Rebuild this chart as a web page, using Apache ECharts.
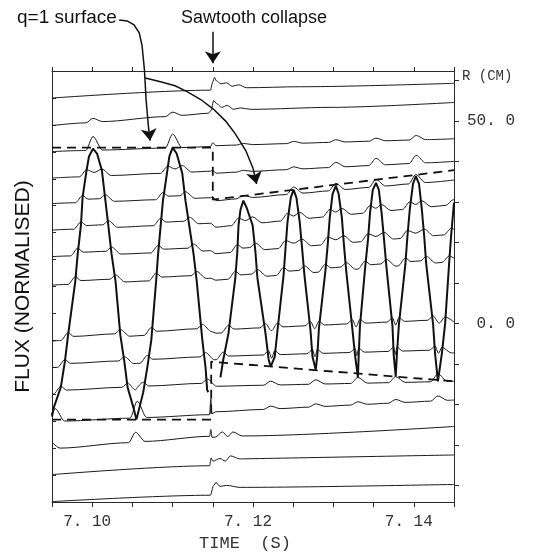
<!DOCTYPE html>
<html><head><meta charset="utf-8">
<script src="https://cdn.jsdelivr.net/npm/echarts@6/dist/echarts.min.js"></script>
<style>html,body{margin:0;padding:0;background:#fff}#c{width:545px;height:557px}</style>
</head><body><div id="c"></div>
<script>
// Time in ms (axis shown in s); flux in normalised units (trace spacing 2.744); R in cm
const timeLabelValues = [7100, 7120, 7140];
const rTickValues = [-40, -30, -20, -10, 0, 10, 20, 30, 40, 50, 60];
const rLabelValues = [0, 50];

// trace baselines [time, flux] and bumps [tLeftLeg, tRightLeg, height]
const base15 = [[7095,41.15],[7114.7,41.95],[7115.0,42.8],[7115.2,43.25],[7115.45,42.9],[7116.0,42.6],[7116.7,42.7],[7117.4,42.35],[7118.2,42.5],[7119.2,42.2],[7125.9,42.3],[7145,42.65]];
const bumps15 = [];
const base14 = [[7095,38.35],[7114.45,39.6],[7114.8,39.9],[7115.1,40.9],[7115.45,40.6],[7116.1,40.2],[7116.8,40.4],[7117.6,40.0],[7118.4,40.15],[7119.7,40.0],[7129.7,40.2],[7145,40.7]];
const bumps14 = [[7100.1,7100.1,0.4],[7110.0,7110.0,0.4]];
const base13 = [[7095,35.7],[7114.7,36.2],[7115.0,36.6],[7115.4,36.3],[7145,37.0]];
const bumps13 = [[7100.1,7100.1,1.4],[7110.0,7110.0,1.4],[7118.8,7118.8,0.15],[7125.05,7125.05,0.2],[7130.3,7130.3,0.25],[7135.3,7135.3,0.3],[7140.3,7140.3,0.45]];
const base12 = [[7095,33.0],[7114.7,33.7],[7115.0,33.8],[7115.4,33.5],[7145,34.7]];
const bumps12 = [[7099.3,7101.2,0.7],[7109.4,7111.2,0.7],[7118.8,7118.8,0.15],[7125.05,7125.05,0.25],[7130.3,7130.3,0.5],[7135.3,7135.3,0.7],[7140.3,7140.3,0.8]];
const base11 = [[7095,30.4],[7114.7,31.0],[7115.0,31.1],[7115.4,30.7],[7145,32.8]];
const bumps11 = [[7098.8,7101.6,0.7],[7108.8,7111.6,0.7],[7118.8,7118.8,0.3],[7125.05,7125.05,0.7],[7130.3,7130.3,0.7],[7135.3,7135.3,0.75],[7140.25,7140.25,0.9]];
const base10 = [[7095,27.7],[7114.7,28.4],[7115.4,28.0],[7145,30.3]];
const bumps10 = [[7098.6,7102.0,0.7],[7108.5,7112.1,0.7],[7118.2,7119.95,0.7],[7124.3,7125.8,0.7],[7129.55,7131.05,0.7],[7134.55,7136.0,0.7],[7139.5,7141.0,0.7],[7144.9,7144.9,0.5]];
const base9 = [[7095,25.0],[7114.7,25.6],[7115.4,25.3],[7145,27.3]];
const bumps9 = [[7098.2,7102.4,0.75],[7108.2,7112.6,0.75],[7118.05,7120.3,0.75],[7124.05,7126.1,0.75],[7129.3,7131.3,0.75],[7134.3,7136.3,0.75],[7139.2,7141.3,0.75],[7144.65,7144.65,0.6]];
const base8 = [[7095,22.1],[7114.7,22.8],[7115.4,22.6],[7145,24.5]];
const bumps8 = [[7097.9,7102.9,0.75],[7107.95,7113.0,0.75],[7117.8,7120.55,0.75],[7123.8,7126.4,0.75],[7129.0,7131.6,0.75],[7133.95,7136.6,0.75],[7138.95,7141.55,0.75],[7144.4,7144.4,0.6]];
const base6 = [[7095,16.4],[7114.7,17.4],[7115.4,17.2],[7145,18.3]];
const bumps6 = [[7097.0,7103.5,0.75],[7107.35,7113.7,0.75],[7116.95,7121.55,0.75],[7123.05,7127.15,0.75],[7128.2,7132.35,0.75],[7133.3,7137.35,0.75],[7138.15,7142.4,0.75],[7143.9,7143.9,0.6]];
const base5 = [[7095,13.7],[7114.7,14.5],[7115.4,14.5],[7145,15.2]];
const bumps5 = [[7096.6,7104.0,0.75],[7106.85,7114.1,0.75],[7116.3,7121.95,0.75],[7122.7,7127.4,0.75],[7128.0,7132.7,0.75],[7133.15,7137.5,0.75],[7137.9,7142.65,0.75],[7143.5,7143.5,0.6]];
const base4 = [[7095,11.0],[7114.7,11.8],[7115.0,11.4],[7115.4,11.8],[7145,12.3]];
const bumps4 = [[7096.1,7104.4,0.75],[7106.35,7114.3,0.75],[7122.2,7122.2,0.4],[7127.8,7127.8,0.45],[7133.05,7133.05,0.6],[7137.75,7137.75,0.6],[7143.0,7143.0,0.8]];
const base3 = [[7095,8.2],[7114.6,8.9],[7114.75,10.5],[7114.9,9.0],[7115.4,9.2],[7145,10.4]];
const bumps3 = [[7095.4,7095.4,1.3],[7105.6,7105.6,1.7],[7122.2,7122.2,0.3],[7127.8,7127.8,0.3],[7133.05,7133.05,0.3],[7137.75,7137.75,0.35],[7143.0,7143.0,0.5]];
const base2 = [[7095,6.1],[7096.0,5.5],[7114.6,6.7],[7114.75,7.4],[7114.9,6.6],[7145,7.7]];
const bumps2 = [[7105.4,7105.4,1.0],[7116.2,7116.2,0.5],[7117.5,7117.5,0.45]];
const base1 = [[7095,2.8],[7114.6,3.7],[7114.8,4.5],[7115.1,4.0],[7118.4,4.4],[7145,4.8]];
const bumps1 = [[7115.9,7115.9,0.35],[7117.2,7117.2,0.45]];
const base0 = [[7095,0.05],[7114.7,0.7],[7115.1,1.7],[7115.4,2.0],[7115.9,1.6],[7116.7,1.7],[7118.4,1.5],[7145,1.8]];
const bumps0 = [];

// m=1 hot-spot trajectories (thick lines)
const archPre = [[7095,8.7],[7095.25,9.7],[7096.1,11.7],[7096.6,14.3],[7097.0,17.0],[7097.9,22.5],[7098.2,25.3],[7098.6,28.2],[7098.8,31.0],[7099.3,33.8],[7099.6,35.2],[7100.1,36.0],[7100.6,35.5],[7101.2,33.8],[7101.6,31.0],[7102.0,28.2],[7102.4,25.3],[7102.9,22.5],[7103.5,17.0],[7104.0,14.3],[7104.4,11.7],[7105.1,9.7],[7105.5,8.4],
 [7106.35,11.2],[7106.85,13.7],[7107.35,16.5],[7107.95,22.5],[7108.2,25.3],[7108.5,28.0],[7108.8,30.7],[7109.3,33.5],[7109.6,35.2],[7110.0,36.1],[7110.5,35.5],[7111.2,33.5],[7111.6,30.7],[7112.1,28.0],[7112.6,25.3],[7113.0,22.5],[7113.7,16.5],[7114.1,13.7],[7114.3,11.4],[7114.45,11.2]];
const archPost = [[7115.95,12.7],[7116.3,14.5],[7116.95,17.2],[7117.8,22.8],[7118.05,25.5],[7118.2,28.2],[7118.45,29.8],[7118.8,30.7],[7119.2,30.0],[7119.95,28.2],[7120.3,25.5],[7120.55,22.8],[7121.55,17.2],[7121.95,14.5],[7122.2,13.8],
 [7122.7,14.8],[7123.05,17.5],[7123.8,23.1],[7124.05,25.9],[7124.3,28.6],[7124.7,31.0],[7125.05,31.8],[7125.4,31.0],[7125.8,28.6],[7126.1,25.9],[7126.4,23.1],[7127.15,17.5],[7127.4,14.8],[7127.8,13.5],
 [7128.0,14.9],[7128.2,17.7],[7129.0,23.5],[7129.3,26.3],[7129.55,29.0],[7129.9,31.4],[7130.3,32.2],[7130.65,31.4],[7131.05,29.0],[7131.3,26.3],[7131.6,23.5],[7132.35,17.7],[7132.7,14.9],[7133.05,12.7],
 [7133.15,15.0],[7133.3,17.9],[7133.95,23.9],[7134.3,26.7],[7134.55,29.4],[7134.9,31.8],[7135.3,32.5],[7135.65,31.8],[7136.0,29.4],[7136.3,26.7],[7136.6,23.9],[7137.35,17.9],[7137.5,15.0],[7137.75,12.8],
 [7137.9,15.1],[7138.15,18.1],[7138.95,24.2],[7139.2,27.0],[7139.5,29.8],[7139.9,32.4],[7140.25,33.2],[7140.65,32.4],[7141.0,29.8],[7141.3,27.0],[7141.55,24.2],[7142.4,18.1],[7142.65,15.1],[7143.0,12.3],
 [7143.5,15.2],[7143.9,18.2],[7144.4,24.4],[7144.65,27.2],[7145.0,30.5]];

// q=1 surface (dashed)
const q1Upper = [[7095,36.1],[7115.0,36.1],[7115.0,30.8],[7145,33.8]];
const q1Lower = [[7095,8.4],[7114.8,8.4],[7114.8,14.3],[7145,12.3]];

// annotation arrows
const q1ArrowPath = [[7103.35,49.1],[7104.35,49.0],[7105.2,48.6],[7105.85,47.8],[7106.2,46.5],[7106.5,44.0],[7106.7,41.0],[7107.0,38.2]];
const q1ArrowHead = [[7107.0,38.2],[7107.2,36.8]];
const postArrowPath = [[7106.6,43.2],[7108.5,42.8],[7110.3,42.4],[7111.8,41.8],[7113.5,41.0],[7115.1,40.0],[7116.6,38.8],[7117.8,37.5],[7119.1,35.8],[7120.0,34.0]];
const postArrowHead = [[7120.0,34.0],[7120.45,32.4]];
const collapseArrow = [[7115.0,47.9],[7115.0,44.7]];

function baseAt(base, t) {
  if (t <= base[0][0]) return base[0][1];
  for (let i = 0; i < base.length - 1; i++) {
    const a = base[i], b = base[i + 1];
    if (t <= b[0]) return a[1] + (b[1] - a[1]) * (t - a[0]) / (b[0] - a[0]);
  }
  return base[base.length - 1][1];
}
function buildTrace(base, bumps) {
  const W = 0.9;
  const feats = bumps.slice().sort((a, b) => a[0] - b[0]);
  const pts = [], wins = [];
  feats.forEach((f, i) => {
    const tL = f[0], tR = f[1], h = f[2];
    let lf = tL - W, rf = tR + W * 1.3;
    if (i > 0) lf = Math.max(lf, (feats[i - 1][1] + tL) / 2);
    if (i < feats.length - 1) rf = Math.min(rf, (tR + feats[i + 1][0]) / 2);
    wins.push([lf, rf]);
    pts.push([lf, baseAt(base, lf)]);
    pts.push([tL, baseAt(base, tL) + h]);
    if (tR - tL > 0.05) {
      if (tR - tL > 2.2) {
        pts.push([tL + 0.7, baseAt(base, tL + 0.7) + 0.45 * h]);
        pts.push([tR - 0.7, baseAt(base, tR - 0.7) + 0.45 * h]);
      } else {
        pts.push([(tL + tR) / 2, baseAt(base, (tL + tR) / 2) + 0.55 * h]);
      }
      pts.push([tR, baseAt(base, tR) + h]);
    }
    pts.push([rf, baseAt(base, rf)]);
  });
  base.forEach(p => { if (!wins.some(w => p[0] > w[0] && p[0] < w[1])) pts.push(p.slice()); });
  pts.sort((a, b) => a[0] - b[0]);
  return pts;
}

const traces = [[base15,bumps15],[base14,bumps14],[base13,bumps13],[base12,bumps12],[base11,bumps11],[base10,bumps10],[base9,bumps9],[base8,bumps8],[base6,bumps6],[base5,bumps5],[base4,bumps4],[base3,bumps3],[base2,bumps2],[base1,bumps1],[base0,bumps0]];

const ink = '#111';
const series = traces.map(tr => ({
  type: 'line', data: buildTrace(tr[0], tr[1]), showSymbol: false, symbol: 'none',
  smooth: 0.3, smoothMonotone: 'x', lineStyle: { color: '#1a1a1a', width: 1 }, silent: true, z: 2
}));
series.push({ type: 'line', data: archPre, showSymbol: false, symbol: 'none', lineStyle: { color: ink, width: 2 }, z: 3, silent: true });
series.push({ type: 'line', data: archPost, showSymbol: false, symbol: 'none', lineStyle: { color: ink, width: 2 }, z: 3, silent: true });
series.push({ type: 'line', data: q1Upper, showSymbol: false, symbol: 'none', lineStyle: { color: ink, width: 1.8, type: [9, 6] }, z: 3, silent: true });
series.push({ type: 'line', data: q1Lower, showSymbol: false, symbol: 'none', lineStyle: { color: ink, width: 1.8, type: [9, 6] }, z: 3, silent: true });
series.push({ type: 'lines', coordinateSystem: 'cartesian2d', polyline: true, clip: false, silent: true,
  data: [{ coords: q1ArrowPath }, { coords: postArrowPath }], symbol: 'none',
  lineStyle: { color: ink, width: 1.5, opacity: 1 }, z: 4 });
series.push({ type: 'lines', coordinateSystem: 'cartesian2d', clip: false, silent: true,
  data: [{ coords: q1ArrowHead }, { coords: postArrowHead }, { coords: collapseArrow }],
  symbol: ['none', 'arrow'], symbolSize: 12,
  lineStyle: { color: ink, width: 1.5, opacity: 1 }, itemStyle: { color: ink, opacity: 1 }, z: 4 });

const axisInk = '#2a2a2a';
const option = {
  animation: false,
  backgroundColor: '#fff',
  grid: { left: 52, top: 71, width: 402, height: 439, containLabel: false },
  xAxis: [
    { type: 'value', position: 'bottom', min: 7095, max: 7145, interval: 5,
      axisLine: { show: true, onZero: false, lineStyle: { color: axisInk, width: 1 } },
      axisTick: { show: true, length: 5, lineStyle: { color: axisInk } },
      splitLine: { show: false },
      axisLabel: { interval: 0, margin: 12, fontFamily: 'Liberation Mono', fontSize: 16, color: '#333', padding: [0, 10, 0, 0],
        formatter: v => timeLabelValues.includes(Math.round(v)) ? (Math.round(v) / 1000).toFixed(2).replace('.', '. ') : '' },
      name: 'TIME  (S)', nameLocation: 'middle', nameGap: 27,
      nameTextStyle: { fontFamily: 'Liberation Mono', fontSize: 17, color: '#333', padding: [0, 16, 0, 0] } },
    { type: 'value', position: 'top', min: 7095, max: 7145, interval: 5,
      axisLine: { show: true, onZero: false, lineStyle: { color: axisInk, width: 1 } },
      axisTick: { show: true, length: 4, lineStyle: { color: axisInk } },
      splitLine: { show: false }, axisLabel: { show: false } }
  ],
  yAxis: [
    { type: 'value', position: 'left', min: 0, max: 43.904, interval: 2.744,
      axisLine: { show: true, onZero: false, lineStyle: { color: axisInk, width: 1 } },
      axisTick: { show: true, inside: true, length: 4, lineStyle: { color: axisInk } },
      splitLine: { show: false }, axisLabel: { show: false },
      name: 'FLUX (NORMALISED)', nameLocation: 'middle', nameGap: 18,
      nameTextStyle: { fontFamily: 'Liberation Sans', fontSize: 21, color: '#111' } },
    { type: 'value', position: 'right', min: -44.17, max: 62.38,
      axisLine: { show: true, onZero: false, lineStyle: { color: axisInk, width: 1 } },
      axisTick: { show: true, length: 5, customValues: rTickValues, lineStyle: { color: axisInk } },
      splitLine: { show: false },
      axisLabel: { customValues: rLabelValues, margin: 61, align: 'right', fontFamily: 'Liberation Mono', fontSize: 16, color: '#333', padding: [16, 0, 0, 0],
        formatter: v => v.toFixed(1).replace('.', '. ') } }
  ],
  graphic: { elements: [
    { type: 'text', left: 17, top: 8, style: { text: 'q=1 surface', font: '19px "Liberation Sans"', fill: '#111' } },
    { type: 'text', left: 181, top: 9, style: { text: 'Sawtooth collapse', font: '18px "Liberation Sans"', fill: '#111' } },
    { type: 'text', left: 462, top: 69, style: { text: 'R (CM)', font: '14px "Liberation Mono"', fill: '#333' } }
  ] },
  series: series
};
const chart = echarts.init(document.getElementById('c'));
chart.setOption(option);
</script>
</body></html>
